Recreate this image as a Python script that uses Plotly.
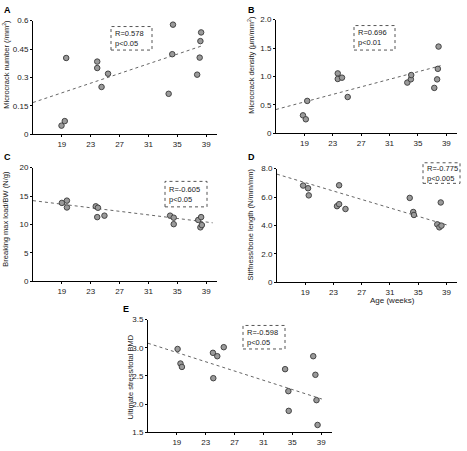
import plotly.graph_objects as go

# ---------------- data ----------------
age_A = [18.95, 19.4, 19.6, 23.9, 23.9, 24.5, 25.4, 33.8, 34.4, 34.3, 37.75, 38.1, 38.2, 38.3]
microcrack_number = [0.046, 0.070, 0.403, 0.384, 0.350, 0.25, 0.32, 0.214, 0.579, 0.423, 0.315, 0.405, 0.492, 0.538]

age_B = [18.8, 19.2, 19.4, 23.7, 23.7, 24.3, 25.1, 33.5, 34.0, 34.05, 37.3, 37.7, 37.8, 37.9]
microcrack_density = [0.317, 0.248, 0.571, 1.055, 0.957, 0.98, 0.64, 0.893, 0.951, 1.026, 0.80, 0.95, 1.135, 1.527]

age_C = [19.0, 19.7, 19.7, 23.7, 24.0, 23.9, 24.9, 34.0, 34.5, 34.5, 37.9, 38.3, 38.2, 38.4]
breaking_load = [13.8, 14.2, 13.0, 13.2, 12.95, 11.3, 11.56, 11.56, 11.2, 10.06, 10.8, 11.3, 9.5, 9.9]

age_D = [18.7, 19.4, 19.5, 23.8, 23.5, 23.8, 24.7, 33.8, 34.3, 34.4, 37.7, 38.0, 38.3, 38.2]
stiffness = [6.81, 6.62, 6.12, 6.83, 5.36, 5.50, 5.16, 5.94, 4.95, 4.74, 4.08, 3.87, 3.99, 5.62]

age_E = [19.1, 19.5, 19.7, 24.0, 24.6, 24.05, 25.5, 34.0, 34.45, 34.5, 37.9, 38.2, 38.35, 38.5]
ultimate_stress = [2.978, 2.72, 2.66, 2.91, 2.85, 2.46, 3.01, 2.62, 2.23, 1.88, 2.85, 2.52, 2.07, 1.63]

# fitted trend lines as drawn in the figure: [start, end] ages and values
trend_x = [[15, 38.5], [15, 38.2], [15, 39.9], [15, 39.4], [15, 39.1]]
trend_y = [[0.168, 0.468], [0.42, 1.19], [14.2, 10.3], [7.61, 3.99], [3.08, 2.09]]

x_ticks = [19, 23, 27, 31, 35, 39]
stats_text = ["R=0.578<br>p<0.05", "R=0.696<br>p<0.01", "R=-0.605<br>p<0.05",
              "R=-0.775<br>p<0.005", "R=-0.598<br>p<0.05"]
y_titles = ["Microcrack number (/mm<sup>2</sup>)", "Microcrack density (μm/mm<sup>2</sup>)",
            "Breaking max load/BW (N/g)", "Stiffness/bone length (N/mm/mm)",
            "Ultimate stress/total BMD"]
letters = ["A", "B", "C", "D", "E"]
y_tickvals = [[0, 0.15, 0.3, 0.45, 0.6], [0, 0.5, 1.0, 1.5, 2.0], [0, 5, 10, 15, 20],
              [0, 2, 4, 6, 8], [1.5, 2.0, 2.5, 3.0, 3.5]]
y_ticktext = [["0", "0.15", "0.3", "0.45", "0.6"], ["0", "0.5", "1.0", "1.5", "2.0"],
              ["0", "5", "10", "15", "20"], ["0", "2.0", "4.0", "6.0", "8.0"],
              ["1.5", "2.0", "2.5", "3.0", "3.5"]]

ages = [age_A, age_B, age_C, age_D, age_E]
vals = [microcrack_number, microcrack_density, breaking_load, stiffness, ultimate_stress]

# ---------------- layout (pixels) ----------------
W, H = 467, 451
FONT = "Liberation Sans, Arial, sans-serif"
# plot areas: x0, x1, ytop, ybottom
areas = [(33, 217, 17, 133), (276, 457, 16, 132), (33, 217, 167, 283),
         (277, 457, 168, 284), (148, 332, 322, 437)]
boxes = [(111, 152, 23, 47), (354, 395, 22, 47), (165, 207, 181, 207),
         (423, 460, 162, 183), (243, 285, 328, 352)]
ytitle_pos = [(6, 62), (251, 62), (6, 219), (251, 225), (130, 381)]
letter_pos = [(2, 6), (246, 6), (2, 156), (246, 156), (121, 311)]


def px(x):
    return x / W


def py(y):
    return 1 - y / H


fig = go.Figure()
annotations = []
shapes = []
layout = {}
for i in range(5):
    idx = "" if i == 0 else str(i + 1)
    xa = "x" + idx
    ya = "y" + idx
    x0, x1, yt, yb = areas[i]
    ax_common = dict(showgrid=False, zeroline=False, showline=True, linecolor="black",
                     linewidth=1, ticks="outside", ticklen=2, tickwidth=1, tickcolor="black",
                     tickfont=dict(family=FONT, size=8, color="#222"))
    layout["xaxis" + idx] = dict(ax_common, domain=[px(x0), px(x1)], anchor=ya,
                                 range=[15, 40.5], tickvals=x_ticks)
    layout["yaxis" + idx] = dict(ax_common, domain=[py(yb), py(yt)], anchor=xa,
                                 range=[y_tickvals[i][0], y_tickvals[i][-1]],
                                 tickvals=y_tickvals[i], ticktext=y_ticktext[i])
    fig.add_trace(go.Scatter(x=trend_x[i], y=trend_y[i], mode="lines", xaxis=xa, yaxis=ya,
                             line=dict(color="#666", width=1, dash="dot"),
                             showlegend=False, hoverinfo="skip"))
    fig.add_trace(go.Scatter(x=ages[i], y=vals[i], mode="markers", xaxis=xa, yaxis=ya,
                             marker=dict(size=5.5, color="#9a9a9a",
                                         line=dict(color="#444", width=1)),
                             showlegend=False, cliponaxis=False))
    bx0, bx1, by0, by1 = boxes[i]
    shapes.append(dict(type="rect", xref="paper", yref="paper", x0=px(bx0), x1=px(bx1),
                       y0=py(by1), y1=py(by0), line=dict(color="#555", width=1, dash="dot")))
    annotations.append(dict(x=px(bx0 + 3), y=py((by0 + by1) / 2), xref="paper", yref="paper",
                            text=stats_text[i], showarrow=False, xanchor="left", yanchor="middle",
                            align="left", borderpad=0,
                            font=dict(family=FONT, size=7.5, color="#222")))
    tx, ty = ytitle_pos[i]
    annotations.append(dict(x=px(tx), y=py(ty), xref="paper", yref="paper", text=y_titles[i],
                            showarrow=False, textangle=-90, xanchor="center", yanchor="middle",
                            font=dict(family=FONT, size=7.5, color="#222")))
    lxp, lyp = letter_pos[i]
    annotations.append(dict(x=px(lxp), y=py(lyp), xref="paper", yref="paper",
                            text="<b>" + letters[i] + "</b>", showarrow=False,
                            xanchor="left", yanchor="middle",
                            font=dict(family=FONT, size=9, color="black")))

annotations.append(dict(x=px(392), y=py(303), xref="paper", yref="paper", text="Age (weeks)",
                        showarrow=False, xanchor="center", yanchor="middle",
                        font=dict(family=FONT, size=8, color="#222")))

fig.update_layout(width=W, height=H, margin=dict(l=0, r=0, t=0, b=0),
                  plot_bgcolor="white", paper_bgcolor="white",
                  annotations=annotations, shapes=shapes, **layout)
fig.write_html("out.html", config={"displayModeBar": False},
               post_script="document.body.style.margin='0';document.body.style.overflow='hidden';")
